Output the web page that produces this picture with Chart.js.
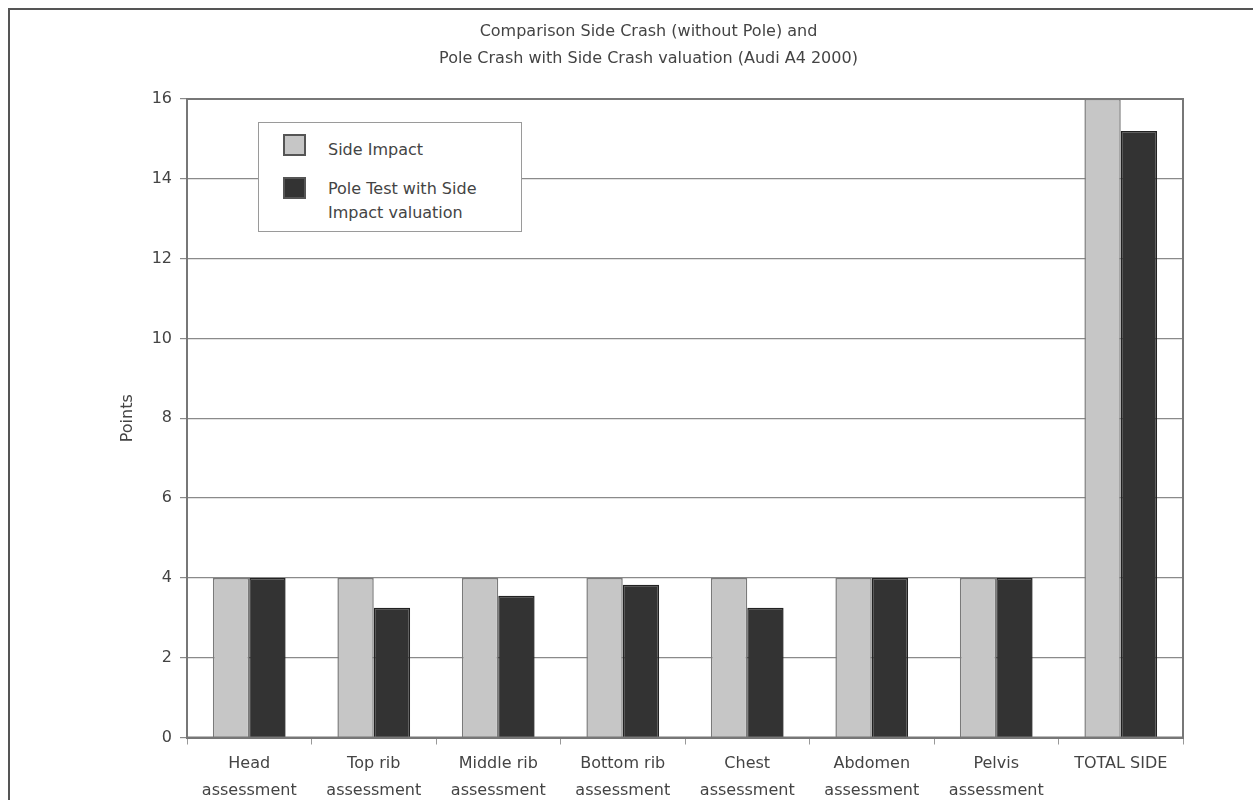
<!DOCTYPE html>
<html>
<head>
<meta charset="utf-8">
<script src="https://cdn.jsdelivr.net/npm/chart.js@4"></script>
<style>
  html, body { margin: 0; padding: 0; background: #fff; overflow: hidden; }
  #wrap { position: relative; width: 1253px; height: 800px; overflow: hidden; }
  #box { position: absolute; left: 0; top: 0; width: 1253px; height: 820px; }
  #frame {
    position: absolute; left: 8px; top: 8px; width: 1260px; height: 820px;
    border-top: 2px solid #555; border-left: 2px solid #555; pointer-events: none;
  }
  #legend {
    position: absolute; left: 258px; top: 122px; width: 262px; height: 108px;
    background: #fff; border: 1.5px solid #9a9a9a;
    font-family: 'DejaVu Sans', sans-serif; font-size: 16px; color: #444;
  }
  .sw { position: absolute; left: 24px; width: 19px; height: 18px; border: 2px solid #555; }
  .txt { position: absolute; left: 69px; line-height: 24px; white-space: nowrap; }
</style>
</head>
<body>
<div id="wrap">
  <div id="box"><canvas id="chart" width="1253" height="820"></canvas></div>
  <div id="frame"></div>
  <div id="legend">
    <div class="sw" style="top:11px;background:#c6c6c6"></div>
    <div class="txt" style="top:15px">Side Impact</div>
    <div class="sw" style="top:54px;background:#333"></div>
    <div class="txt" style="top:54px">Pole Test with Side<br>Impact valuation</div>
  </div>
</div>
<script>
// ── Data ────────────────────────────────────────────────────────────────
const CATEGORIES = [
  ['Head', 'assessment'],
  ['Top rib', 'assessment'],
  ['Middle rib', 'assessment'],
  ['Bottom rib', 'assessment'],
  ['Chest', 'assessment'],
  ['Abdomen', 'assessment'],
  ['Pelvis', 'assessment'],
  'TOTAL SIDE',
];
const SIDE_IMPACT = [4, 4, 4, 4, 4, 4, 4, 16];
const POLE_TEST   = [4, 3.25, 3.55, 3.83, 3.25, 4, 4, 15.2];
const TITLE_LINES = [
  'Comparison Side Crash (without Pole) and',
  'Pole Crash with Side Crash valuation (Audi A4 2000)',
];

const TEXT = '#444';
const FONT = 'DejaVu Sans';

// stroke a full frame round the plot area
const plotFrame = {
  id: 'plotFrame',
  afterDatasetsDraw(chart) {
    const { ctx, chartArea: a } = chart;
    ctx.save();
    ctx.strokeStyle = '#777';
    ctx.lineWidth = 2;
    ctx.strokeRect(a.left, a.top, a.right - a.left, a.bottom - a.top);
    ctx.restore();
  },
};

new Chart(document.getElementById('chart'), {
  type: 'bar',
  data: {
    labels: CATEGORIES,
    datasets: [
      {
        label: 'Side Impact',
        data: SIDE_IMPACT,
        backgroundColor: '#c6c6c6',
        borderColor: '#7a7a7a',
        borderWidth: 1.5,
      },
      {
        label: 'Pole Test with Side Impact valuation',
        data: POLE_TEST,
        backgroundColor: '#333',
        borderColor: '#222',
        borderWidth: 1.5,
      },
    ],
  },
  options: {
    responsive: false,
    animation: false,
    events: [],
    layout: { padding: { left: 114, right: 70, top: 12, bottom: 10.5 } },
    datasets: { bar: { categoryPercentage: 0.584, barPercentage: 1 } },
    plugins: {
      legend: { display: false },
      tooltip: { enabled: false },
      title: {
        display: true,
        text: TITLE_LINES,
        color: TEXT,
        font: { family: FONT, size: 16, weight: 'normal', lineHeight: 1.6875 },
        padding: { top: 6.5, bottom: 26.5 },
      },
    },
    scales: {
      x: {
        grid: { display: true, drawOnChartArea: false, tickLength: 7, color: '#999', offset: true },
        border: { color: '#777', width: 2 },
        ticks: {
          color: TEXT,
          padding: 5.5,
          maxRotation: 0,
          autoSkip: false,
          font: { family: FONT, size: 16, lineHeight: 1.6875 },
        },
      },
      y: {
        min: 0,
        max: 16,
        afterFit(scale) { scale.width = 73; },
        grid: { color: '#8a8a8a', lineWidth: 1.2, tickLength: 7 },
        border: { color: '#777', width: 2 },
        ticks: {
          stepSize: 2,
          color: TEXT,
          padding: 8,
          font: { family: FONT, size: 16 },
        },
        title: {
          display: true,
          text: 'Points',
          color: TEXT,
          font: { family: FONT, size: 16 },
          padding: { top: 4, bottom: 0 },
        },
      },
    },
  },
  plugins: [plotFrame],
});
</script>
</body>
</html>
